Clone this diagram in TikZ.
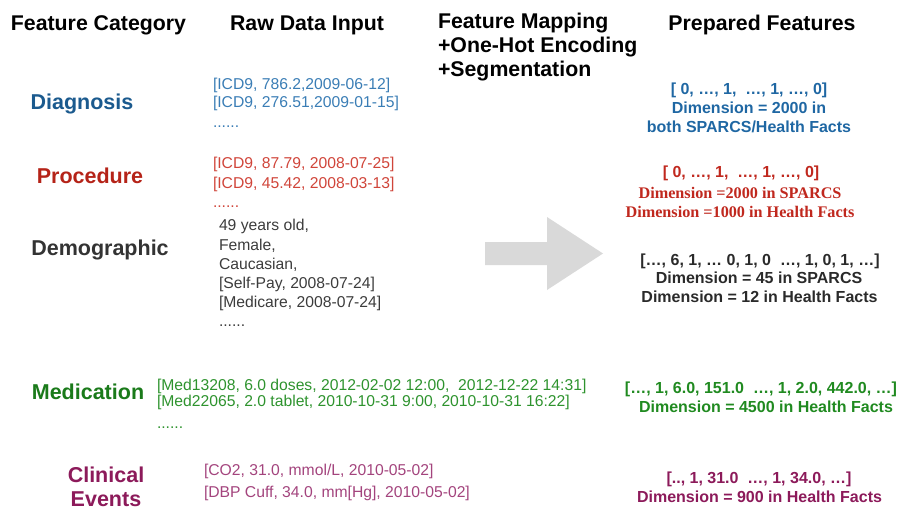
\documentclass[tikz,border=0pt]{standalone}
\usepackage{fontspec}
\setmainfont{Liberation Sans}
\newfontfamily\serifface{Liberation Serif}
\definecolor{tblue}{HTML}{1B5A8E}
\definecolor{dblue}{HTML}{3A7DB5}
\definecolor{pblue}{HTML}{1F67A3}
\definecolor{tred}{HTML}{B52318}
\definecolor{dred}{HTML}{D0453A}
\definecolor{pred}{HTML}{C0281E}
\definecolor{tgray}{HTML}{333333}
\definecolor{dgray}{HTML}{3C3C3C}
\definecolor{pgray}{HTML}{2A2A2A}
\definecolor{tgreen}{HTML}{1A7A1A}
\definecolor{dgreen}{HTML}{2E932E}
\definecolor{pgreen}{HTML}{208A20}
\definecolor{tpurple}{HTML}{8C1A5A}
\definecolor{dpurple}{HTML}{A3447D}
\definecolor{ppurple}{HTML}{8C1A5A}
\definecolor{arrowgray}{HTML}{D9D9D9}
\tikzset{
  every node/.style={inner sep=0pt, outer sep=0pt},
  header/.style={anchor=base, font=\fontsize{21.3}{24}\selectfont\bfseries},
  headerl/.style={anchor=base west, font=\fontsize{21.3}{24}\selectfont\bfseries},
  cat/.style={anchor=base, font=\fontsize{21.5}{25}\selectfont\bfseries},
  raw/.style={anchor=base west, font=\fontsize{15.7}{19}\selectfont},
  prep/.style={anchor=base, font=\fontsize{16}{19}\selectfont\bfseries},
  prepserif/.style={anchor=base, font=\fontsize{16.2}{19}\serifface\selectfont\bfseries},
}
\begin{document}
\begin{tikzpicture}[x=1pt,y=-1pt]
\useasboundingbox (0,0) rectangle (901,513);
% headers
\node[header] (h1) at (98.5,31) {Feature Category};
\node[header] (h2) at (307,31) {Raw Data Input};
\node[headerl] (h3a) at (438,29) {Feature Mapping};
\node[headerl] (h3b) at (438,53) {+One-Hot Encoding};
\node[headerl] (h3c) at (438,77) {+Segmentation};
\node[header] (h4) at (762,31) {Prepared Features};
% categories
\node[cat, text=tblue] (c1) at (82,110) {Diagnosis};
\node[cat, text=tred] (c2) at (90,183) {Procedure};
\node[cat, text=tgray] (c3) at (100,255) {Demographic};
\node[cat, text=tgreen] (c4) at (88,399) {Medication};
\node[cat, text=tpurple] (c5a) at (106,482) {Clinical};
\node[cat, text=tpurple] (c5b) at (106,506) {Events};
% raw data: diagnosis
\node[raw, text=dblue] (r1a) at (213,90) {[ICD9, 786.2,2009-06-12]};
\node[raw, text=dblue] (r1b) at (213,108) {[ICD9, 276.51,2009-01-15]};
\node[raw, text=dblue] (r1c) at (213,128) {......};
% raw data: procedure
\node[raw, text=dred] (r2a) at (213,168) {[ICD9, 87.79, 2008-07-25]};
\node[raw, text=dred] (r2b) at (213,188) {[ICD9, 45.42, 2008-03-13]};
\node[raw, text=dred] (r2c) at (213,207) {......};
% raw data: demographic
\node[raw, text=dgray] (r3a) at (219,230) {49 years old,};
\node[raw, text=dgray] (r3b) at (219,250) {Female,};
\node[raw, text=dgray] (r3c) at (219,269) {Caucasian,};
\node[raw, text=dgray] (r3d) at (219,288) {[Self-Pay, 2008-07-24]};
\node[raw, text=dgray] (r3e) at (219,307) {[Medicare, 2008-07-24]};
\node[raw, text=dgray] (r3f) at (219,326) {......};
% raw data: medication
\node[raw, text=dgreen] (r4a) at (157,390) {[Med13208, 6.0 doses, 2012-02-02 12:00,\ \ 2012-12-22 14:31]};
\node[raw, text=dgreen] (r4b) at (157,406) {[Med22065, 2.0 tablet, 2010-10-31 9:00, 2010-10-31 16:22]};
\node[raw, text=dgreen] (r4c) at (157,428) {......};
% raw data: clinical events
\node[raw, text=dpurple] (r5a) at (204,475) {[CO2, 31.0, mmol/L, 2010-05-02]};
\node[raw, text=dpurple] (r5b) at (204,497) {[DBP Cuff, 34.0, mm[Hg], 2010-05-02]};
% big arrow
\fill[arrowgray] (485,242) -- (547,242) -- (547,217) -- (603,253.5) -- (547,290) -- (547,265) -- (485,265) -- cycle;
% prepared features
\node[prep, text=pblue] (p1a) at (749,95) {[ 0, …, 1,\ \ …, 1, …, 0]};
\node[prep, text=pblue] (p1b) at (749,114) {Dimension = 2000 in};
\node[prep, text=pblue] (p1c) at (749,133) {both SPARCS/Health Facts};
\node[prep, text=pred] (p2a) at (741,178) {[ 0, …, 1,\ \ …, 1, …, 0]};
\node[prepserif, text=pred] (p2b) at (740,198) {Dimension =2000 in SPARCS};
\node[prepserif, text=pred] (p2c) at (740,217) {Dimension =1000 in Health Facts};
\node[prep, text=pgray] (p3a) at (760,265) {[…, 6, 1, … 0, 1, 0\ \ …, 1, 0, 1, …]};
\node[prep, text=pgray] (p3b) at (759,283) {Dimension = 45 in SPARCS};
\node[prep, text=pgray] (p3c) at (759.5,302) {Dimension = 12 in Health Facts};
\node[prep, text=pgreen] (p4a) at (761,393) {[…, 1, 6.0, 151.0\ \ …, 1, 2.0, 442.0, …]};
\node[prep, text=pgreen] (p4b) at (766,412) {Dimension = 4500 in Health Facts};
\node[prep, text=ppurple] (p5a) at (759,483) {[.., 1, 31.0\ \ …, 1, 34.0, …]};
\node[prep, text=ppurple] (p5b) at (759.5,502) {Dimension = 900 in Health Facts};
\end{tikzpicture}
\end{document}
